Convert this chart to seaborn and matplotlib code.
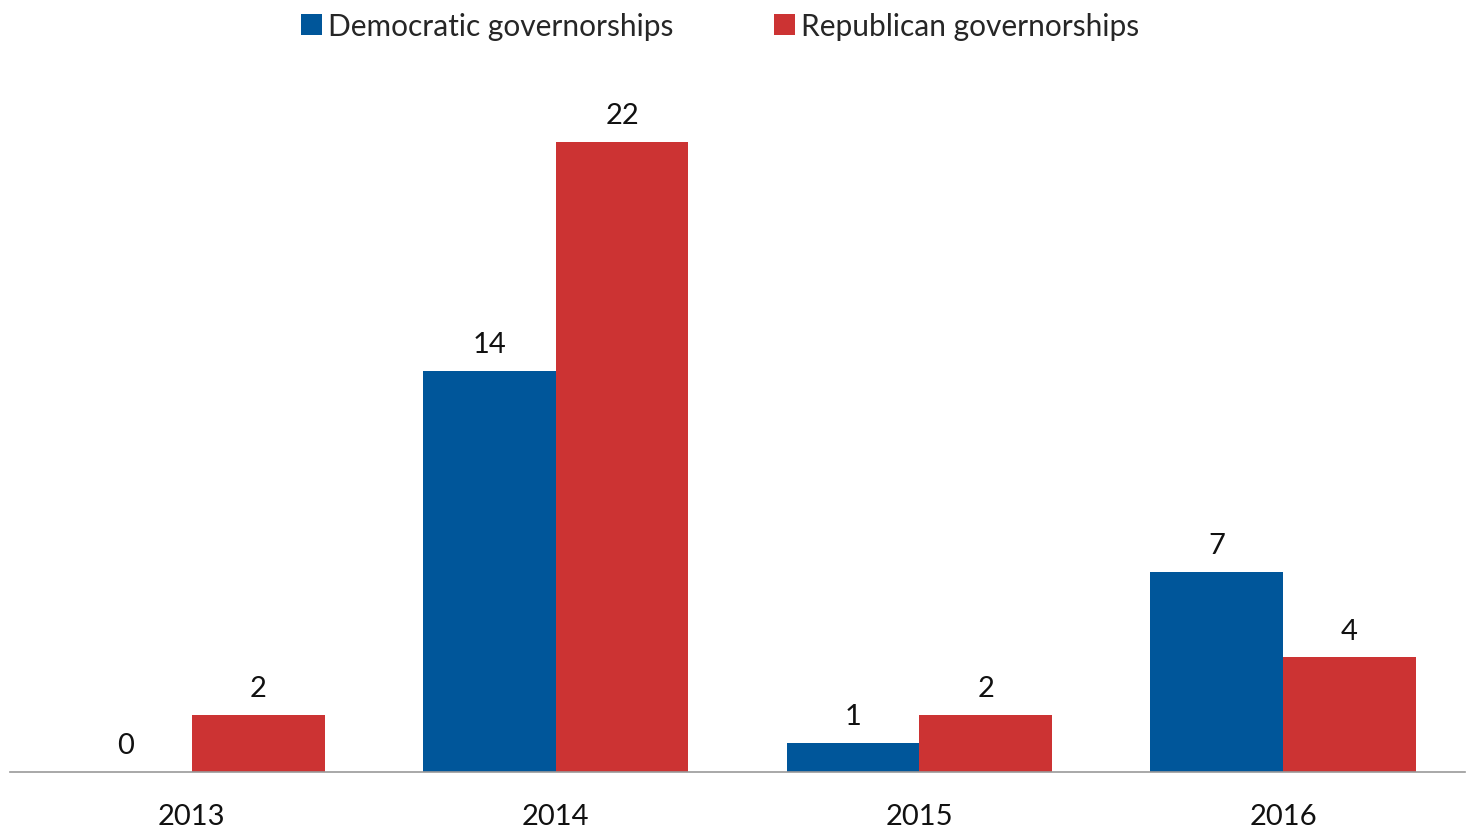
import matplotlib
matplotlib.use("Agg")
import matplotlib.pyplot as plt
import seaborn as sns
import pandas as pd

years = ["2013", "2014", "2015", "2016"]
democratic = [0, 14, 1, 7]
republican = [2, 22, 2, 4]
series = ["Democratic governorships", "Republican governorships"]
colors = ["#00569A", "#CC3333"]

df = pd.DataFrame({
    "year": years * 2,
    "value": democratic + republican,
    "party": [series[0]] * len(years) + [series[1]] * len(years),
})

sns.set_theme(style="white")
plt.rcParams['font.family'] = ['Lato', 'DejaVu Sans']

fig = plt.figure(figsize=(14.7, 8.37), dpi=100)
ax = fig.add_axes([0.0068, 0.0765, 0.9898, 0.855])
sns.barplot(data=df, x="year", y="value", hue="party", palette=colors,
            width=0.73, saturation=1, ax=ax, legend=True, linewidth=0)

for cont in ax.containers:
    ax.bar_label(cont, labels=[f"{v:g}" for v in cont.datavalues],
                 padding=10, fontsize=21, color="#111111")

ax.set_xlim(-0.5, 3.5)
ax.set_ylim(0, 25)
ax.set_xlabel("")
ax.set_ylabel("")
ax.set_yticks([])
ax.tick_params(axis="x", labelsize=21, length=0, pad=22, colors="#111111")
for s in ["top", "right", "left"]:
    ax.spines[s].set_visible(False)
ax.spines["bottom"].set_color("#999999")
ax.spines["bottom"].set_linewidth(1.2)

handles, labels = ax.get_legend_handles_labels()
ax.legend(handles, labels, loc="upper center", bbox_to_anchor=(0.488, 1.1),
          ncol=2, frameon=False, fontsize=21.5, handlelength=0.7, handleheight=0.7,
          handletextpad=0.2, columnspacing=3.4)

fig.savefig("out.png", dpi=100)
